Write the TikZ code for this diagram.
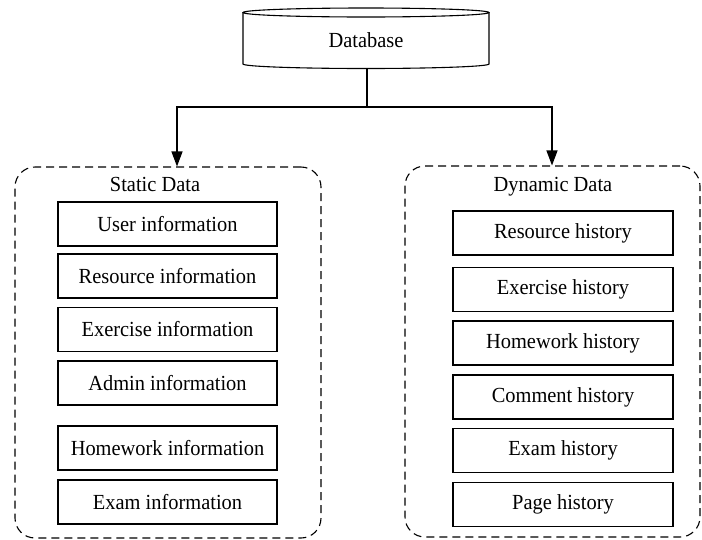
\documentclass[tikz,border=0pt]{standalone}
\usepackage{fontspec}
\setmainfont{Liberation Serif}[FakeStretch=0.95]
\usetikzlibrary{arrows.meta}
\begin{document}
\begin{tikzpicture}[x=1pt,y=-1pt,
  every node/.style={font=\fontsize{21.5}{25}\selectfont},
  item/.style={draw,line width=1.2pt,minimum width=219pt,minimum height=44pt,inner sep=0pt},
  group/.style={draw,dash pattern=on 8pt off 5pt,line width=1.1pt,rounded corners=20pt,inner sep=0pt},
  conn/.style={line width=1.2pt},
  arr/.style={conn,-{Triangle[length=15pt,width=11pt]}}]
\useasboundingbox (0,0) rectangle (702,539);
% database cylinder
\node[minimum width=246pt,minimum height=56pt,inner sep=0pt] (db) at (366,40.5) {Database};
\draw[line width=1.1pt] (366,12.5) ellipse [x radius=123pt,y radius=4.5pt];
\draw[line width=1.1pt] (243,12.5) -- (243,64) arc[start angle=180,end angle=360,x radius=123pt,y radius=4.5pt] -- (489,12.5);
% groups
\node[group,minimum width=306pt,minimum height=371pt] (static) at (168,352.5) {};
\node[group,minimum width=295pt,minimum height=371pt] (dynamic) at (552.5,351.5) {};
\node (stitle) at (155,184) {Static Data};
\node (dtitle) at (553,187) {Dynamic Data};
% static items
\node[item] (s1) at (167.5,224) {User information};
\node[item] (s2) at (167.5,276) {Resource information};
\node[item] (s3) at (167.5,329.5) {Exercise information};
\node[item] (s4) at (167.5,383) {Admin information};
\node[item] (s5) at (167.5,448) {Homework information};
\node[item] (s6) at (167.5,502) {Exam information};
% dynamic items
\node[item,minimum width=220pt] (d1) at (563,233) {Resource history};
\node[item,minimum width=220pt] (d2) at (563,289.5) {Exercise history};
\node[item,minimum width=220pt] (d3) at (563,343) {Homework history};
\node[item,minimum width=220pt] (d4) at (563,397) {Comment history};
\node[item,minimum width=220pt] (d5) at (563,450.5) {Exam history};
\node[item,minimum width=220pt] (d6) at (563,504.5) {Page history};
% connectors
\coordinate (j) at (367,107);
\draw[conn] (db.south -| j) -- (j);
\draw[arr] (j) -- (177,107) -- (177,0 |- static.north);
\draw[arr] (j) -- (552,107) -- (552,0 |- dynamic.north);
\end{tikzpicture}
\end{document}
